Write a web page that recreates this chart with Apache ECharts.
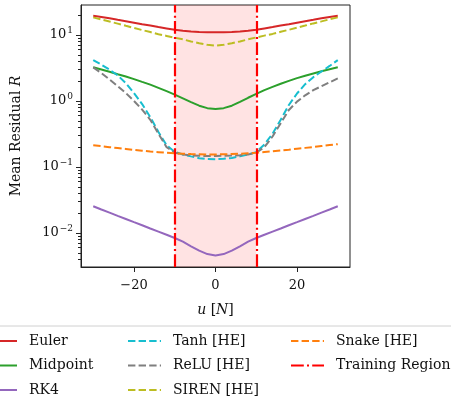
<!DOCTYPE html>
<html>
<head>
<meta charset="utf-8">
<script src="https://cdn.jsdelivr.net/npm/echarts@6/dist/echarts.min.js"></script>
<style>
  html, body { margin: 0; padding: 0; background: #fff; }
  #chart { width: 451px; height: 405px; }
</style>
</head>
<body>
<div id="chart"></div>
<script>
  // force u [N]
  const uValues = [-30, -28, -26, -24, -22, -20, -18, -16, -14, -12, -10, -8, -6, -4, -2, 0,
    2, 4, 6, 8, 10, 12, 14, 16, 18, 20, 22, 24, 26, 28, 30]

  // mean residual R per method
  const euler = [19.6, 18.8, 17.9, 17.0, 16.2, 15.4, 14.6, 13.9, 13.2, 12.6, 12.0, 11.6, 11.3, 11.1, 11.0, 11.0,
    11.0, 11.1, 11.3, 11.6, 12.0, 12.6, 13.2, 13.9, 14.6, 15.4, 16.2, 17.0, 17.9, 18.8, 19.6]
  const midpoint = [3.24, 3.00, 2.78, 2.55, 2.35, 2.15, 1.95, 1.77, 1.58, 1.41, 1.25, 1.10, 0.96, 0.85, 0.78, 0.76,
    0.78, 0.85, 0.97, 1.12, 1.28, 1.46, 1.64, 1.83, 2.02, 2.22, 2.42, 2.62, 2.82, 3.03, 3.24]
  const rk4 = [0.0254, 0.0227, 0.0204, 0.0182, 0.0163, 0.0146, 0.0131, 0.0117, 0.0105, 0.0094, 0.0084, 0.0074, 0.0063, 0.0054, 0.0048, 0.00457,
    0.0048, 0.0054, 0.0063, 0.0074, 0.0084, 0.0094, 0.0105, 0.0117, 0.0131, 0.0146, 0.0163, 0.0182, 0.0204, 0.0227, 0.0254]
  const tanhHE = [4.17, 3.55, 2.99, 2.45, 1.86, 1.32, 0.90, 0.57, 0.34, 0.214, 0.170, 0.155, 0.145, 0.136, 0.132, 0.131,
    0.133, 0.137, 0.145, 0.155, 0.168, 0.22, 0.32, 0.52, 0.87, 1.30, 1.80, 2.30, 2.80, 3.40, 4.17]
  const reluHE = [3.24, 2.65, 2.12, 1.68, 1.32, 1.00, 0.74, 0.52, 0.32, 0.20, 0.165, 0.155, 0.150, 0.148, 0.147, 0.147,
    0.148, 0.149, 0.151, 0.155, 0.165, 0.20, 0.29, 0.46, 0.73, 0.98, 1.22, 1.46, 1.68, 1.92, 2.20]
  const sirenHE = [18.5, 17.2, 16.0, 14.9, 13.8, 12.8, 11.9, 11.1, 10.3, 9.7, 9.1, 8.6, 8.0, 7.5, 7.1, 6.9,
    7.1, 7.5, 8.0, 8.6, 9.2, 9.8, 10.4, 11.2, 12.0, 12.9, 13.9, 15.0, 16.1, 17.3, 18.5]
  const snakeHE = [0.214, 0.207, 0.200, 0.194, 0.188, 0.182, 0.177, 0.172, 0.168, 0.164, 0.161, 0.159, 0.157, 0.156, 0.155, 0.155,
    0.156, 0.157, 0.159, 0.162, 0.165, 0.169, 0.173, 0.178, 0.183, 0.189, 0.195, 0.201, 0.208, 0.215, 0.222]

  const trainingRegion = [-10, 10]
  const xTicks = [-20, 0, 20]
  const yTicks = [0.01, 0.1, 1, 10]
  const yMinorTicks = [0.004, 0.005, 0.006, 0.007, 0.008, 0.009,
    0.02, 0.03, 0.04, 0.05, 0.06, 0.07, 0.08, 0.09,
    0.2, 0.3, 0.4, 0.5, 0.6, 0.7, 0.8, 0.9,
    2, 3, 4, 5, 6, 7, 8, 9, 20]

  const FONT = 'DejaVu Serif'
  const dashed = [7.4, 3.2]
  const dashDot = [12.8, 3.2, 2, 3.2]

  const pairs = vals => uValues.map((u, i) => [u, vals[i]])
  const minus = s => String(s).replace('-', '\u2212')

  function curve(name, vals, color, type) {
    return {
      name: name,
      type: 'line',
      data: pairs(vals),
      symbol: 'none',
      lineStyle: { color: color, width: 2, type: type || 'solid' },
      itemStyle: { color: color },
      z: 3
    }
  }

  const chart = echarts.init(document.getElementById('chart'))

  const legendBase = {
    orient: 'vertical',
    top: 333,
    padding: 0,
    itemWidth: 33,
    itemHeight: 14,
    itemGap: 8.5,
    itemStyle: { opacity: 0 },
    textStyle: { fontFamily: FONT, fontSize: 14, color: '#111', lineHeight: 16, padding: [0, 0, 0, 7] }
  }

  chart.setOption({
    animation: false,
    backgroundColor: '#fff',
    grid: {
      left: 81,
      right: 101,
      top: 5,
      bottom: 138,
      show: true,
      borderColor: '#222',
      borderWidth: 1,
      backgroundColor: 'transparent'
    },
    graphic: [{
      type: 'rect',
      z: 0,
      shape: { x: -6, y: 326, width: 463, height: 90, r: 3 },
      style: { fill: '#fff', stroke: '#d0d0d0', lineWidth: 1 }
    }],
    legend: [
      Object.assign({ left: -17, data: ['Euler', 'Midpoint', 'RK4'] }, legendBase),
      Object.assign({ left: 127, data: ['Tanh [HE]', 'ReLU [HE]', 'SIREN [HE]'] }, legendBase),
      Object.assign({ left: 290, data: ['Snake [HE]', 'Training Region'] }, legendBase)
    ],
    xAxis: {
      type: 'value',
      min: -33,
      max: 33,
      name: '{i|u} [{i|N}]',
      nameLocation: 'middle',
      nameGap: 36,
      nameTextStyle: {
        fontFamily: FONT, fontSize: 14, color: '#111',
        rich: { i: { fontFamily: FONT, fontSize: 14, fontStyle: 'italic', color: '#111' } }
      },
      splitLine: { show: false },
      axisLine: { show: true, onZero: false, lineStyle: { color: '#222', width: 1 } },
      axisTick: { show: true, length: 5, customValues: xTicks, lineStyle: { color: '#222' } },
      axisLabel: {
        customValues: xTicks,
        margin: 12,
        fontFamily: FONT, fontSize: 13, color: '#111',
        formatter: v => minus(v)
      }
    },
    yAxis: [{
      type: 'log',
      min: Math.pow(10, -2.515),
      max: Math.pow(10, 1.455),
      name: 'Mean Residual {i|R}',
      nameLocation: 'middle',
      nameGap: 58,
      nameTextStyle: {
        fontFamily: FONT, fontSize: 14, color: '#111',
        rich: { i: { fontFamily: FONT, fontSize: 14, fontStyle: 'italic', color: '#111' } }
      },
      splitLine: { show: false },
      axisLine: { show: true, onZero: false, lineStyle: { color: '#222', width: 1 } },
      axisTick: { show: true, length: 5, customValues: yTicks, lineStyle: { color: '#222' } },
      axisLabel: {
        customValues: yTicks,
        margin: 8,
        formatter: v => '{b|10}{e|' + minus(Math.round(Math.log10(v))) + '}',
        rich: {
          b: { fontFamily: FONT, fontSize: 13, color: '#111', lineHeight: 18 },
          e: { fontFamily: FONT, fontSize: 9, color: '#111', verticalAlign: 'top', padding: [0, 0, 0, 1] }
        }
      }
    }, {
      type: 'log',
      min: Math.pow(10, -2.515),
      max: Math.pow(10, 1.455),
      position: 'left',
      splitLine: { show: false },
      axisLine: { show: false, onZero: false },
      axisLabel: { show: false },
      axisTick: { show: true, length: 3, customValues: yMinorTicks, lineStyle: { color: '#222' } }
    }],
    series: [
      {
        name: 'shade',
        type: 'line',
        data: [],
        z: 1,
        silent: true,
        markArea: {
          silent: true,
          itemStyle: { color: 'rgba(255,0,0,0.11)' },
          data: [[{ xAxis: trainingRegion[0] }, { xAxis: trainingRegion[1] }]]
        }
      },
      curve('Euler', euler, '#d62728'),
      curve('Midpoint', midpoint, '#2ca02c'),
      curve('RK4', rk4, '#9467bd'),
      curve('Tanh [HE]', tanhHE, '#17becf', dashed),
      curve('ReLU [HE]', reluHE, '#7f7f7f', dashed),
      curve('SIREN [HE]', sirenHE, '#bcbd22', dashed),
      curve('Snake [HE]', snakeHE, '#ff7f0e', dashed),
      {
        name: 'Training Region',
        type: 'line',
        data: [],
        symbol: 'none',
        z: 5,
        lineStyle: { color: '#ff0000', width: 2.2, type: dashDot },
        itemStyle: { color: '#ff0000' },
        markLine: {
          silent: true,
          symbol: ['none', 'none'],
          label: { show: false },
          lineStyle: { color: '#ff0000', width: 2.2, type: dashDot },
          data: trainingRegion.map(v => ({ xAxis: v }))
        }
      }
    ]
  })
</script>
</body>
</html>
